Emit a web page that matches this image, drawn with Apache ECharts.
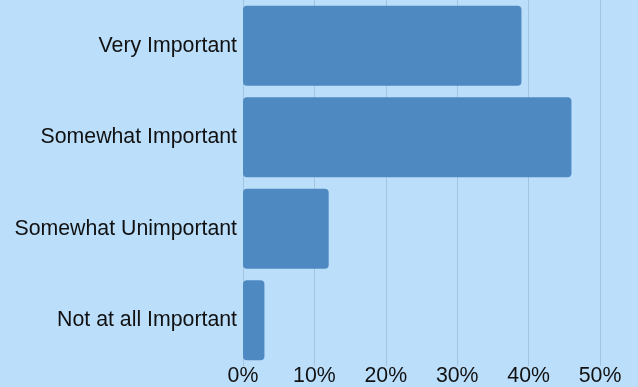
<!DOCTYPE html>
<html><head><meta charset="utf-8">
<script src="https://cdn.jsdelivr.net/npm/echarts@6/dist/echarts.min.js"></script>
<style>html,body{margin:0;padding:0;background:#BBDEFB;}#c{width:638px;height:387px;}</style>
</head><body><div id="c"></div>
<script>
const categories = ["Very Important", "Somewhat Important", "Somewhat Unimportant", "Not at all Important"];
const values = [39, 46, 12, 3];
const xTicks = [0, 10, 20, 30, 40, 50];

const chart = echarts.init(document.getElementById('c'), null, {renderer: 'canvas'});
chart.setOption({
  backgroundColor: '#BBDEFB',
  animation: false,
  grid: {left: 243, right: 38, top: 0, bottom: 19, containLabel: false},
  xAxis: {
    type: 'value', min: xTicks[0], max: xTicks[xTicks.length - 1], interval: 10,
    axisLine: {show: false}, axisTick: {show: false},
    splitLine: {show: true, lineStyle: {color: '#A3C3DE', width: 1}},
    axisLabel: {formatter: v => v + '%', color: '#111', fontSize: 21.3, fontFamily: 'Liberation Sans', margin: 0, lineHeight: 21}
  },
  yAxis: {
    type: 'category', data: categories, inverse: true,
    axisLine: {show: false}, axisTick: {show: false},
    axisLabel: {color: '#111', fontSize: 21.3, fontFamily: 'Liberation Sans', margin: 6}
  },
  series: [{
    type: 'bar', data: values, barCategoryGap: '12.5%',
    itemStyle: {color: '#4F89C2', borderRadius: 4}
  }]
});
</script></body></html>
